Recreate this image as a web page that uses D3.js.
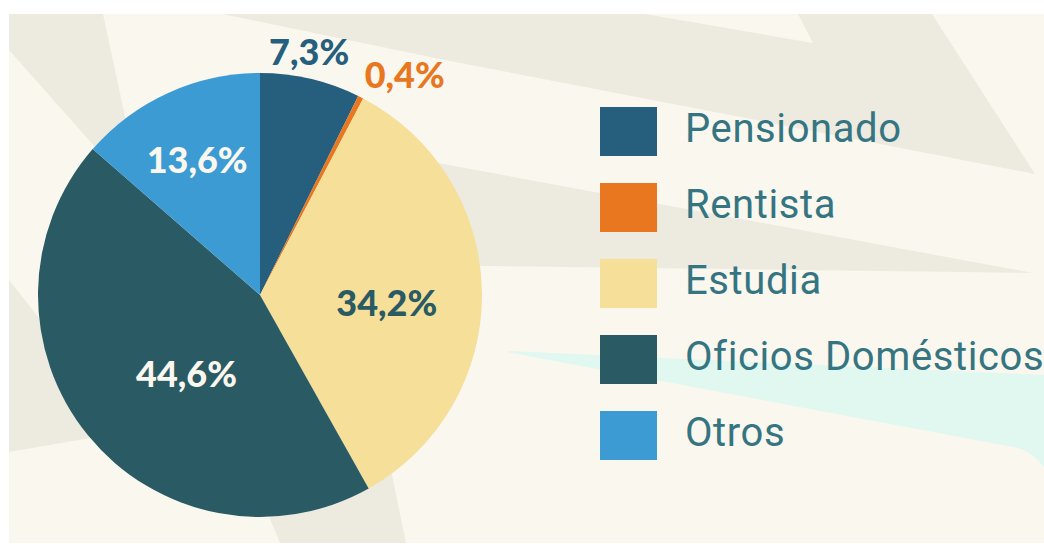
<!DOCTYPE html>
<html lang="es">
<head>
    <meta charset="UTF-8">
    <title>Ocupación</title>
    <script src="https://d3js.org/d3.v7.min.js"></script>
    <style>
        body { margin: 0; background: #fff; }
        svg { display: block; }
    </style>
</head>
<body>
    <script>

        // data
        var categories = ['Pensionado', 'Rentista', 'Estudia', 'Oficios Domésticos', 'Otros'];
        var values = [7.3, 0.4, 34.2, 44.6, 13.6];
        var labels = ['7,3%', '0,4%', '34,2%', '44,6%', '13,6%'];
        var colors = ['#265e7e', '#e8771f', '#f6df98', '#2a5a64', '#3d9bd3'];
        var labelColors = ['#265e7e', '#e8771f', '#2a5a64', '#faf7ee', '#faf7ee'];

        // label placement: radius from center and angle nudge (degrees)
        var labelRadius = [248, 263, 127, 108, 149];
        var labelNudge = [-1.7, 6.4, 4.3, -8, -0.5];

        var width = 1044;
        var height = 544;
        var cx = 260, cy = 295, radius = 222;

        var svg = d3.select('body').append('svg')
            .attr('width', width)
            .attr('height', height);

        // background panel
        svg.append('rect')
            .attr('x', 9).attr('y', 14)
            .attr('width', width - 9).attr('height', 529)
            .attr('fill', '#faf7ee');

        // decorative rays behind the chart
        var rays = [
            [[9, 14], [103, 14], [143, 201], [9, 50]],
            [[222, 14], [645, 14], [813, 43], [798, 14], [932, 14], [1035, 174], [880, 144], [440, 59]],
            [[260, 130], [1033, 273], [260, 263]],
            [[9, 280], [80, 370], [130, 432], [90, 438], [9, 452]],
            [[250, 470], [390, 465], [406, 543], [280, 543]]
        ];
        svg.append('g').selectAll('polygon')
            .data(rays)
            .enter()
            .append('polygon')
            .attr('points', function (d) { return d.map(function (p) { return p.join(','); }).join(' '); })
            .attr('fill', '#edebe0');

        svg.append('path')
            .attr('d', 'M507,351 L1044,375 L1044,467 Q1030,449 1013,447 L507,352 Z')
            .attr('fill', '#e0f8ef');

        // pie
        var pie = d3.pie().sort(null).value(function (d) { return d; });
        var arcs = pie(values);
        var arc = d3.arc().innerRadius(0).outerRadius(radius);

        var g = svg.append('g')
            .attr('transform', 'translate(' + cx + ',' + cy + ')');

        g.selectAll('path')
            .data(arcs)
            .enter()
            .append('path')
            .attr('d', arc)
            .attr('fill', function (d, i) { return colors[i]; });

        g.selectAll('text')
            .data(arcs)
            .enter()
            .append('text')
            .attr('transform', function (d, i) {
                var a = (d.startAngle + d.endAngle) / 2 + labelNudge[i] * Math.PI / 180;
                var r = labelRadius[i];
                return 'translate(' + (r * Math.sin(a)) + ',' + (-r * Math.cos(a)) + ')';
            })
            .attr('text-anchor', 'middle')
            .attr('dy', '0.36em')
            .attr('font-family', 'Lato, "Noto Sans", sans-serif')
            .attr('font-weight', 900)
            .attr('font-size', 36)
            .attr('fill', function (d, i) { return labelColors[i]; })
            .text(function (d, i) { return labels[i]; });

        // legend
        var y = d3.scalePoint().domain(categories).range([107, 411]);

        var legend = svg.append('g').selectAll('g')
            .data(categories)
            .enter()
            .append('g')
            .attr('transform', function (d) { return 'translate(600,' + y(d) + ')'; });

        legend.append('rect')
            .attr('width', 57)
            .attr('height', 49)
            .attr('fill', function (d, i) { return colors[i]; });

        legend.append('text')
            .attr('x', 85)
            .attr('y', 35)
            .attr('font-family', 'Roboto, sans-serif')
            .attr('font-size', 40)
            .attr('letter-spacing', 0.6)
            .attr('fill', '#357582')
            .text(function (d) { return d; });

    </script>
</body>
</html>
